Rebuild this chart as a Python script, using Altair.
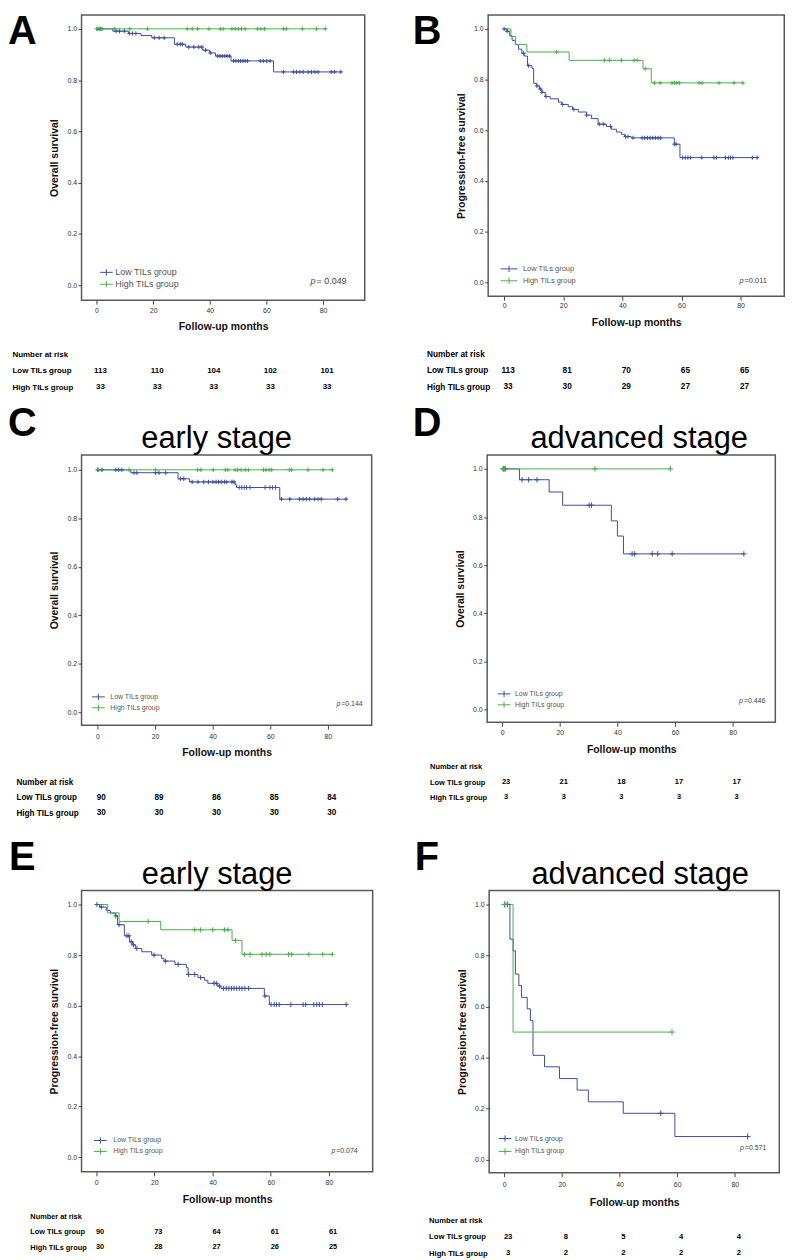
import altair as alt
import pandas as pd

FONT = "Liberation Sans"
BLUE = "#3D4E9F"
GREEN = "#45B24A"
GROUPS = ["Low TILs group", "High TILs group"]
TABLE_ROWS = ["Number at risk", "Low TILs group", "High TILs group"]
RISK_MONTHS = [0, 20, 40, 60, 80]
Y_TICKS = [0.0, 0.2, 0.4, 0.6, 0.8, 1.0]

# ---------------- Panel A : overall survival, all patients ----------------
A_low_t = [5.7, 11.3, 15.7, 19.5, 27.5, 31.5, 37.5, 40.0, 42.0, 47.5, 62.5]
A_low_s = [0.991, 0.982, 0.974, 0.965, 0.940, 0.929, 0.917, 0.906, 0.894, 0.875, 0.832]
A_low_end = 86.3
A_low_cens = [0.5, 1.5, 6.9, 8.1, 9.8, 11.6, 12.7, 13.9, 20.4, 22.1, 23.9, 28.5, 29.7, 30.3,
              32.6, 34.4, 36.1, 37.2, 38.5, 40.2, 42.8, 43.6, 44.4, 45.3, 46.1, 46.9, 48.4,
              49.2, 50.1, 50.9, 51.7, 52.5, 53.3, 57.8, 58.9, 60.1, 61.3, 66.0, 69.5, 70.6,
              71.8, 73.0, 74.7, 75.9, 77.1, 78.2, 82.9, 84.1, 86.3]
A_high_t = []
A_high_s = []
A_high_end = 81.2
A_high_cens = [0.0, 1.0, 2.0, 6.3, 11.8, 18.0, 32.0, 33.8, 35.7, 39.7, 43.7, 44.7, 47.8, 49.0,
               50.1, 51.2, 52.5, 56.8, 58.0, 59.3, 66.0, 67.0, 72.7, 77.7, 80.8]
A_risk_low = [113, 110, 104, 102, 101]
A_risk_high = [33, 33, 33, 33, 33]
A_p = " = 0.049"

# ---------------- Panel B : progression-free survival, all patients ----------------
B_low_t = [1.0, 1.9, 2.7, 3.8, 4.9, 6.0, 6.8, 7.9, 9.4, 10.0, 11.1, 12.0, 12.8, 13.9, 15.6,
           18.4, 19.5, 21.7, 23.2, 25.1, 27.9, 29.6, 31.8, 34.6, 36.3, 38.0, 39.7, 40.8,
           43.0, 57.6, 59.5]
B_low_s = [0.991, 0.973, 0.955, 0.938, 0.920, 0.904, 0.893, 0.855, 0.845, 0.785, 0.775,
           0.763, 0.750, 0.733, 0.724, 0.711, 0.702, 0.693, 0.682, 0.672, 0.660, 0.646,
           0.624, 0.615, 0.604, 0.593, 0.584, 0.575, 0.570, 0.545, 0.492]
B_low_end = 86.2
B_low_cens = [0.0, 1.0, 6.6, 8.3, 11.1, 12.2, 12.8, 14.2, 19.8, 23.6, 27.9, 32.2, 33.7, 36.0,
              41.1, 41.9, 43.6, 46.7, 47.6, 48.5, 49.4, 50.3, 51.2, 52.1, 53.0, 57.6, 58.2,
              60.4, 61.3, 62.2, 63.1, 66.9, 71.0, 71.8, 74.9, 75.9, 76.6, 77.4, 84.0, 85.6]
B_high_t = [2.3, 3.9, 7.7, 22.0, 47.0, 49.8]
B_high_s = [0.970, 0.939, 0.909, 0.876, 0.843, 0.787]
B_high_end = 81.1
B_high_cens = [17.8, 34.0, 35.7, 39.7, 44.0, 45.0, 47.8, 50.9, 52.8, 56.8, 57.6, 58.4, 59.3,
               66.0, 67.0, 72.7, 77.8, 80.8]
B_risk_low = [113, 81, 70, 65, 65]
B_risk_high = [33, 30, 29, 27, 27]
B_p = "=0.011"

# ---------------- Panel C : overall survival, early stage ----------------
C_low_t = [11.6, 28.0, 32.0, 47.8, 48.3, 63.3]
C_low_s = [0.988, 0.963, 0.950, 0.939, 0.927, 0.879]
C_low_end = 86.7
C_low_cens = [0.1, 1.6, 6.4, 7.4, 8.5, 12.7, 13.7, 20.2, 21.4, 23.7, 28.8, 30.0, 32.9, 34.9,
              36.9, 38.6, 40.1, 41.2, 42.1, 43.0, 44.1, 44.9, 46.7, 47.4, 49.2, 50.1, 51.0,
              51.8, 53.0, 58.2, 59.9, 60.8, 61.8, 63.9, 66.8, 70.2, 71.4, 72.5, 73.7, 75.4,
              76.6, 77.7, 83.4, 86.3]
C_high_t = []
C_high_s = []
C_high_end = 81.7
C_high_cens = [0.4, 11.0, 20.2, 34.8, 35.9, 40.2, 44.4, 45.3, 47.8, 48.7, 49.9, 51.3, 52.4,
               57.6, 58.5, 59.6, 60.5, 66.6, 67.4, 73.1, 78.3, 81.5]
C_risk_low = [90, 89, 86, 85, 84]
C_risk_high = [30, 30, 30, 30, 30]
C_p = "=0.144"

# ---------------- Panel D : overall survival, advanced stage ----------------
D_low_t = [6.0, 16.3, 21.0, 37.9, 40.0, 42.1]
D_low_s = [0.955, 0.904, 0.849, 0.784, 0.721, 0.647]
D_low_end = 83.9
D_low_cens = [0.4, 1.1, 6.9, 9.2, 12.1, 30.2, 31.0, 45.1, 46.0, 52.1, 54.0, 59.0, 83.9]
D_high_t = []
D_high_s = []
D_high_end = 58.4
D_high_cens = [0.3, 0.8, 32.2, 58.4]
D_risk_low = [23, 21, 18, 17, 17]
D_risk_high = [3, 3, 3, 3, 3]
D_p = "=0.446"

# ---------------- Panel E : progression-free survival, early stage ----------------
E_low_t = [1.2, 3.5, 4.9, 6.6, 7.4, 9.7, 11.5, 12.6, 13.6, 15.7, 19.1, 22.5, 23.3, 27.1,
           31.0, 31.6, 35.0, 37.3, 38.4, 41.8, 42.9, 57.8, 59.5]
E_low_s = [0.990, 0.976, 0.966, 0.955, 0.920, 0.876, 0.852, 0.840, 0.826, 0.813, 0.800,
           0.787, 0.776, 0.763, 0.750, 0.723, 0.711, 0.700, 0.688, 0.677, 0.668, 0.638, 0.604]
E_low_end = 86.2
E_low_cens = [0.3, 1.8, 6.8, 7.9, 10.6, 11.3, 12.1, 12.8, 14.0, 19.9, 23.9, 28.2, 31.8, 33.9,
              35.9, 40.5, 41.3, 42.4, 43.8, 44.7, 45.6, 46.5, 47.4, 48.3, 49.2, 50.1, 51.1,
              52.4, 58.0, 60.1, 61.2, 62.0, 62.9, 66.9, 71.1, 72.0, 74.8, 75.8, 76.7, 77.7, 85.9]
E_high_t = [4.0, 7.9, 22.2, 46.7, 50.1]
E_high_s = [0.967, 0.933, 0.900, 0.858, 0.803]
E_high_end = 81.4
E_high_cens = [17.9, 33.9, 35.9, 40.1, 44.1, 45.3, 47.9, 51.0, 52.9, 57.0, 58.4, 59.7, 66.1,
               67.2, 73.1, 77.9, 81.1]
E_risk_low = [90, 73, 64, 61, 61]
E_risk_high = [30, 28, 27, 26, 25]
E_p = "=0.074"

# ---------------- Panel F : progression-free survival, advanced stage ----------------
F_low_t = [2.0, 3.1, 3.9, 5.1, 6.0, 8.0, 9.1, 10.0, 14.0, 19.2, 25.3, 29.2, 41.3, 59.2]
F_low_s = [0.864, 0.818, 0.727, 0.682, 0.636, 0.591, 0.545, 0.409, 0.364, 0.318, 0.273,
           0.227, 0.182, 0.091]
F_low_end = 84.4
F_low_cens = [0.2, 1.1, 54.3, 84.4]
F_high_t = [3.1]
F_high_s = [0.5]
F_high_end = 58.3
F_high_cens = [0.2, 58.2]
F_risk_low = [23, 8, 5, 4, 4]
F_risk_high = [3, 2, 2, 2, 2]
F_p = "=0.571"

# ---------------- styling / layout per panel ----------------
CENS_PATH = "M0,-1L0,1M-1,0L1,0"


def leg_path(half):
    return f"M-{half},0L{half},0M0,-0.8L0,0.8"


STYLE = {
    "A": dict(letter="A", w=285, h=287, xdom=[-5.3, 94.7], ydom=[-0.058, 1.054],
              ytitle="Overall survival", stage=None, stage_dx=0, cs=18,
              lx=20.5, ly=254.5, lfs=9, lrow=1, loff=4.5, lhalf=1.6,
              px=236.5, py=268, pfs=9, xlp=2.5, xtp=8.25, lp=70, step=16.5, tfs=8,
              sp=13.5, ldx=-4, ldy=38.25),
    "B": dict(letter="B", w=298, h=283, xdom=[-5.4, 94.8], ydom=[-0.055, 1.055],
              ytitle="Progression-free survival", stage=None, stage_dx=0, cs=18,
              lx=16.5, ly=251, lfs=7.5, lrow=1, loff=9.5, lhalf=2.1,
              px=258, py=268, pfs=7.5, xlp=1.5, xtp=9.25, lp=62, step=16.5, tfs=8.3,
              sp=17.5, ldx=-14, ldy=38.25),
    "C": dict(letter="C", w=292, h=272, xdom=[-5.5, 95.2], ydom=[-0.054, 1.0615],
              ytitle="Overall survival", stage="early stage", stage_dx=-10, cs=20,
              lx=12.5, ly=239, lfs=7, lrow=0, loff=7.5, lhalf=1.6,
              px=261.4, py=251, pfs=7, xlp=3.5, xtp=8.25, lp=66, step=15.5, tfs=8.2,
              sp=16, ldx=-8, ldy=22),
    "D": dict(letter="D", w=290, h=269, xdom=[-5.2, 94.8], ydom=[-0.052, 1.058],
              ytitle="Overall survival", stage="advanced stage", stage_dx=8, cs=30,
              lx=12.5, ly=236, lfs=7, lrow=0, loff=6.5, lhalf=1.6,
              px=258.4, py=248, pfs=7, xlp=2.5, xtp=9.25, lp=58, step=15.5, tfs=7.5,
              sp=3, ldx=-17, ldy=22),
    "E": dict(letter="E", w=293, h=283, xdom=[-5.0, 95.0], ydom=[-0.058, 1.055],
              ytitle="Progression-free survival", stage="early stage", stage_dx=-10, cs=25,
              lx=14.5, ly=247, lfs=7, lrow=0, loff=8.5, lhalf=1.6,
              px=256.4, py=262, pfs=7, xlp=2.5, xtp=9.25, lp=52, step=15.5, tfs=7.4,
              sp=3, ldx=-21, ldy=19.5),
    "F": dict(letter="F", w=292, h=284, xdom=[-5.2, 95.4], ydom=[-0.051, 1.054],
              ytitle="Progression-free survival", stage="advanced stage", stage_dx=6, cs=36,
              lx=11.5, ly=245, lfs=7, lrow=2, loff=5.5, lhalf=1.6,
              px=257.4, py=259, pfs=7, xlp=3.5, xtp=10.25, lp=61, step=16.5, tfs=7.7,
              sp=3.5, ldx=-14, ldy=19.5),
}

DATA = {
    "A": (A_low_t, A_low_s, A_low_end, A_low_cens, A_high_t, A_high_s, A_high_end, A_high_cens,
          A_risk_low, A_risk_high, A_p),
    "B": (B_low_t, B_low_s, B_low_end, B_low_cens, B_high_t, B_high_s, B_high_end, B_high_cens,
          B_risk_low, B_risk_high, B_p),
    "C": (C_low_t, C_low_s, C_low_end, C_low_cens, C_high_t, C_high_s, C_high_end, C_high_cens,
          C_risk_low, C_risk_high, C_p),
    "D": (D_low_t, D_low_s, D_low_end, D_low_cens, D_high_t, D_high_s, D_high_end, D_high_cens,
          D_risk_low, D_risk_high, D_p),
    "E": (E_low_t, E_low_s, E_low_end, E_low_cens, E_high_t, E_high_s, E_high_end, E_high_cens,
          E_risk_low, E_risk_high, E_p),
    "F": (F_low_t, F_low_s, F_low_end, F_low_cens, F_high_t, F_high_s, F_high_end, F_high_cens,
          F_risk_low, F_risk_high, F_p),
}


def km_frames(step_t, step_s, end_t, cens_t, group):
    last = step_s[-1] if step_s else 1.0
    line = pd.DataFrame({"t": [0.0] + list(step_t) + [end_t],
                         "s": [1.0] + list(step_s) + [last], "g": group})

    def surv(c):
        v = 1.0
        for tt, ss in zip(step_t, step_s):
            if tt <= c:
                v = ss
        return v

    pts = pd.DataFrame({"t": cens_t, "s": [surv(c) for c in cens_t], "g": group})
    return line, pts


def resolve(ch):
    return ch.resolve_scale(x="independent", y="independent", color="independent") \
             .resolve_legend(color="independent")


def panel(key):
    st = STYLE[key]
    (lt, ls, le, lc, ht, hs, he, hc, rl, rh, ptxt) = DATA[key]
    l_line, l_pts = km_frames(lt, ls, le, lc, GROUPS[0])
    h_line, h_pts = km_frames(ht, hs, he, hc, GROUPS[1])
    line_df = pd.concat([l_line, h_line], ignore_index=True)
    pts_df = pd.concat([l_pts, h_pts], ignore_index=True)

    xs = alt.Scale(domain=st["xdom"], nice=False, zero=False)
    x = alt.X("t:Q", scale=xs,
              axis=alt.Axis(values=RISK_MONTHS, title="Follow-up months", labelFontSize=7,
                            labelColor="#333", labelFont=FONT, tickSize=4, tickColor="#444",
                            labelPadding=st["xlp"], titlePadding=st["xtp"], titleFont=FONT,
                            titleFontSize=10.5, titleFontWeight="bold", titleColor="#111"))
    y = alt.Y("s:Q", scale=alt.Scale(domain=st["ydom"], nice=False, zero=False),
              axis=alt.Axis(values=Y_TICKS, format=".1f", title=st["ytitle"], labelFontSize=7,
                            labelColor="#333", labelFont=FONT, tickSize=3.5, tickColor="#444",
                            labelPadding=1.5, titlePadding=7, titleFont=FONT,
                            titleFontSize=10.5, titleFontWeight="bold", titleColor="#111"))
    color = alt.Color("g:N", scale=alt.Scale(domain=GROUPS, range=[BLUE, GREEN]),
                      legend=alt.Legend(title=None, orient="none", legendX=st["lx"],
                                        legendY=st["ly"], symbolType=leg_path(st["lhalf"]),
                                        symbolSize=64, symbolStrokeWidth=1,
                                        labelFont=FONT, labelFontSize=st["lfs"],
                                        labelColor="#555", labelOffset=st["loff"],
                                        rowPadding=st["lrow"], padding=0))

    lines = alt.Chart(line_df).mark_line(interpolate="step-after", strokeWidth=1).encode(
        x=x, y=y, color=color)
    pts = alt.Chart(pts_df).mark_point(shape=CENS_PATH, filled=False, strokeWidth=1,
                                       opacity=1, size=st["cs"]).encode(x=x, y=y, color=color)
    p_df = pd.DataFrame({"a": ["p"], "b": [ptxt]})
    p1 = alt.Chart(p_df).mark_text(align="right", baseline="middle", fontStyle="italic",
                                   font=FONT, fontSize=st["pfs"], color="#444").encode(
        text="a:N", x=alt.value(st["px"] - 1), y=alt.value(st["py"]))
    p2 = alt.Chart(p_df).mark_text(align="left", baseline="middle", font=FONT,
                                   fontSize=st["pfs"], color="#444").encode(
        text="b:N", x=alt.value(st["px"]), y=alt.value(st["py"]))

    props = dict(width=st["w"], height=st["h"],
                 view=alt.ViewBackground(stroke="#5a5a5a", strokeWidth=1.5))
    if st["stage"]:
        props["title"] = alt.TitleParams(st["stage"], font=FONT, fontSize=31,
                                         fontWeight="normal", anchor="middle", frame="group",
                                         dx=st["stage_dx"], offset=0, baseline="top",
                                         color="black")
    plot = alt.layer(lines, pts, p1, p2).properties(**props)

    tab_df = pd.DataFrame({"t": RISK_MONTHS * 2,
                           "row": [GROUPS[0]] * 5 + [GROUPS[1]] * 5,
                           "n": list(rl) + list(rh)})
    table = alt.Chart(tab_df).mark_text(font=FONT, fontSize=st["tfs"], fontWeight="bold",
                                        dx=4, color="black").encode(
        x=alt.X("t:Q", scale=xs, axis=None),
        y=alt.Y("row:N", scale=alt.Scale(domain=TABLE_ROWS, type="point", padding=0.5),
                axis=alt.Axis(title=None, domain=False, ticks=False, tickSize=0,
                              labelAlign="left", labelPadding=st["lp"], labelFont=FONT,
                              labelFontSize=st["tfs"], labelFontWeight="bold",
                              labelColor="black", labelLimit=300)),
        text="n:Q",
    ).properties(width=st["w"], height=3 * st["step"],
                 view=alt.ViewBackground(stroke="transparent"))

    ttl = alt.TitleParams(st["letter"], font=FONT, fontSize=40, fontWeight="bold",
                          anchor="start", frame="bounds", dx=st["ldx"], dy=st["ldy"],
                          offset=0, baseline="top", color="black")
    return resolve(alt.vconcat(plot, table, spacing=st["sp"], title=ttl))


row1 = resolve(alt.hconcat(panel("A"), panel("B"), spacing=47.25))
row2 = resolve(alt.hconcat(panel("C"), panel("D"), spacing=40.25))
row3 = resolve(alt.hconcat(panel("E"), panel("F"), spacing=41.25))
top = resolve(alt.vconcat(row1, row2, spacing=8.75))
chart = resolve(alt.vconcat(top, row3, spacing=15.25)).properties(
    padding={"left": 0, "top": 0, "right": 0, "bottom": 0})
chart = chart.configure_axis(grid=False, domain=False).configure_view(strokeWidth=0)

chart.save("out.html", embed_options={"renderer": "svg", "actions": False})
